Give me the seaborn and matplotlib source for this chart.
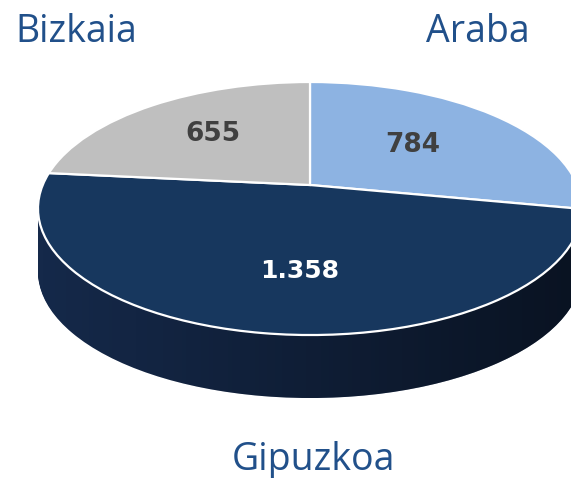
import numpy as np
import matplotlib
matplotlib.use("Agg")
import matplotlib.pyplot as plt
import matplotlib.transforms as mtransforms
import seaborn as sns
from matplotlib.path import Path
from matplotlib.patches import PathPatch

sns.set_theme(style="white")
plt.rcParams['font.family'] = ['Open Sans', 'DejaVu Sans']

# ---- data ----
categories = ["Araba", "Gipuzkoa", "Bizkaia"]
values = [784, 1358, 655]
top_colors = ["#8db3e2", "#17375e", "#bfbfbf"]
side_colors = ["#5d7ea8", "#15294a", "#8a8a8a"]
value_colors = ["#404040", "#ffffff", "#404040"]

W, H = 571, 478
fig = plt.figure(figsize=(W / 100, H / 100), dpi=100)
ax = fig.add_axes([0, 0, 1, 1])

# ---- perspective view of the pie plane (unit circle -> pixel coords) ----
Y_BACK, Y_CENTER, Y_FRONT = 82.0, 185.0, 335.0
X_CENTER, HALF_WIDTH = 310.0, 272.0
DEPTH_PX = 63.0
_r = (Y_BACK + Y_FRONT - 2 * Y_CENTER) / (Y_FRONT - Y_BACK)
_p = Y_BACK * _r + Y_BACK - Y_CENTER
_s = HALF_WIDTH * np.sqrt(1 - _r ** 2)


class Persp(mtransforms.Transform):
    input_dims = output_dims = 2
    is_separable = False
    has_inverse = False

    def __init__(self, dy=0.0):
        super().__init__()
        self.dy = dy

    def transform_non_affine(self, values):
        v = np.asarray(values, dtype=float)
        x, y = v[:, 0], v[:, 1]
        w = _r * y + 1.0
        X = X_CENTER + _s * x / w
        Y = (_p * y + Y_CENTER) / w + self.dy
        return np.column_stack([X, Y])


# side: stacked pies pushed downward
n_layers = 70
for d in np.linspace(DEPTH_PX, 0.0, n_layers):
    ws, _ = ax.pie(values, colors=side_colors, startangle=90, counterclock=False,
                   radius=1.0, center=(0, 0),
                   wedgeprops=dict(linewidth=0, edgecolor="none"))
    for w in ws:
        w.set_transform(Persp(d) + ax.transData)

# shading gradient on the side, clipped to the silhouette of the cylinder
thR = -np.arcsin(_r)
thL = np.pi + np.arcsin(_r)
t_top = np.linspace(thR, thL, 200)
t_bot = np.linspace(thL, thR + 2 * np.pi, 200)
top_pts = Persp(0).transform_non_affine(np.column_stack([np.cos(t_top), np.sin(t_top)]))
bot_pts = Persp(DEPTH_PX).transform_non_affine(np.column_stack([np.cos(t_bot), np.sin(t_bot)]))
sil = Path(np.vstack([top_pts, bot_pts]))
clip = PathPatch(sil, transform=ax.transData, facecolor="none", edgecolor="none")
ax.add_patch(clip)
grad = np.zeros((2, 256, 4))
grad[..., 3] = np.linspace(0.0, 0.55, 256)
xmin, xmax = sil.vertices[:, 0].min(), sil.vertices[:, 0].max()
ymin, ymax = sil.vertices[:, 1].min(), sil.vertices[:, 1].max()
im = ax.imshow(grad, extent=(xmin, xmax, ymax, ymin), aspect="auto",
               zorder=5, interpolation="bilinear")
im.set_clip_path(clip)

# top surface
wedges, _ = ax.pie(values, colors=top_colors, startangle=90, counterclock=False,
                   radius=1.0, center=(0, 0),
                   wedgeprops=dict(linewidth=1.6, edgecolor="white"))
for w in wedges:
    w.set_transform(Persp(0) + ax.transData)
    w.set_zorder(10)

ax.set_aspect("auto")
ax.set_xlim(0, W)
ax.set_ylim(H, 0)
ax.axis("off")

# value labels
value_pos = [(413, 145), (300, 271), (213, 134)]
for v, (px, py), c, fs in zip(values, value_pos, value_colors, [19, 18, 19]):
    txt = f"{v:,}".replace(",", ".")
    ax.text(px, py, txt, ha="center", va="center",
            fontsize=fs, fontweight="bold", color=c,
            family=["DejaVu Sans"], zorder=20)

# category labels
cat_pos = {"Araba": (478, 42), "Gipuzkoa": (313, 470), "Bizkaia": (76, 42)}
for cat in categories:
    px, py = cat_pos[cat]
    ax.text(px, py, cat, ha="center", va="baseline",
            fontsize=27, color="#21508a", zorder=20)

fig.savefig("out.png", dpi=100, facecolor="white")
